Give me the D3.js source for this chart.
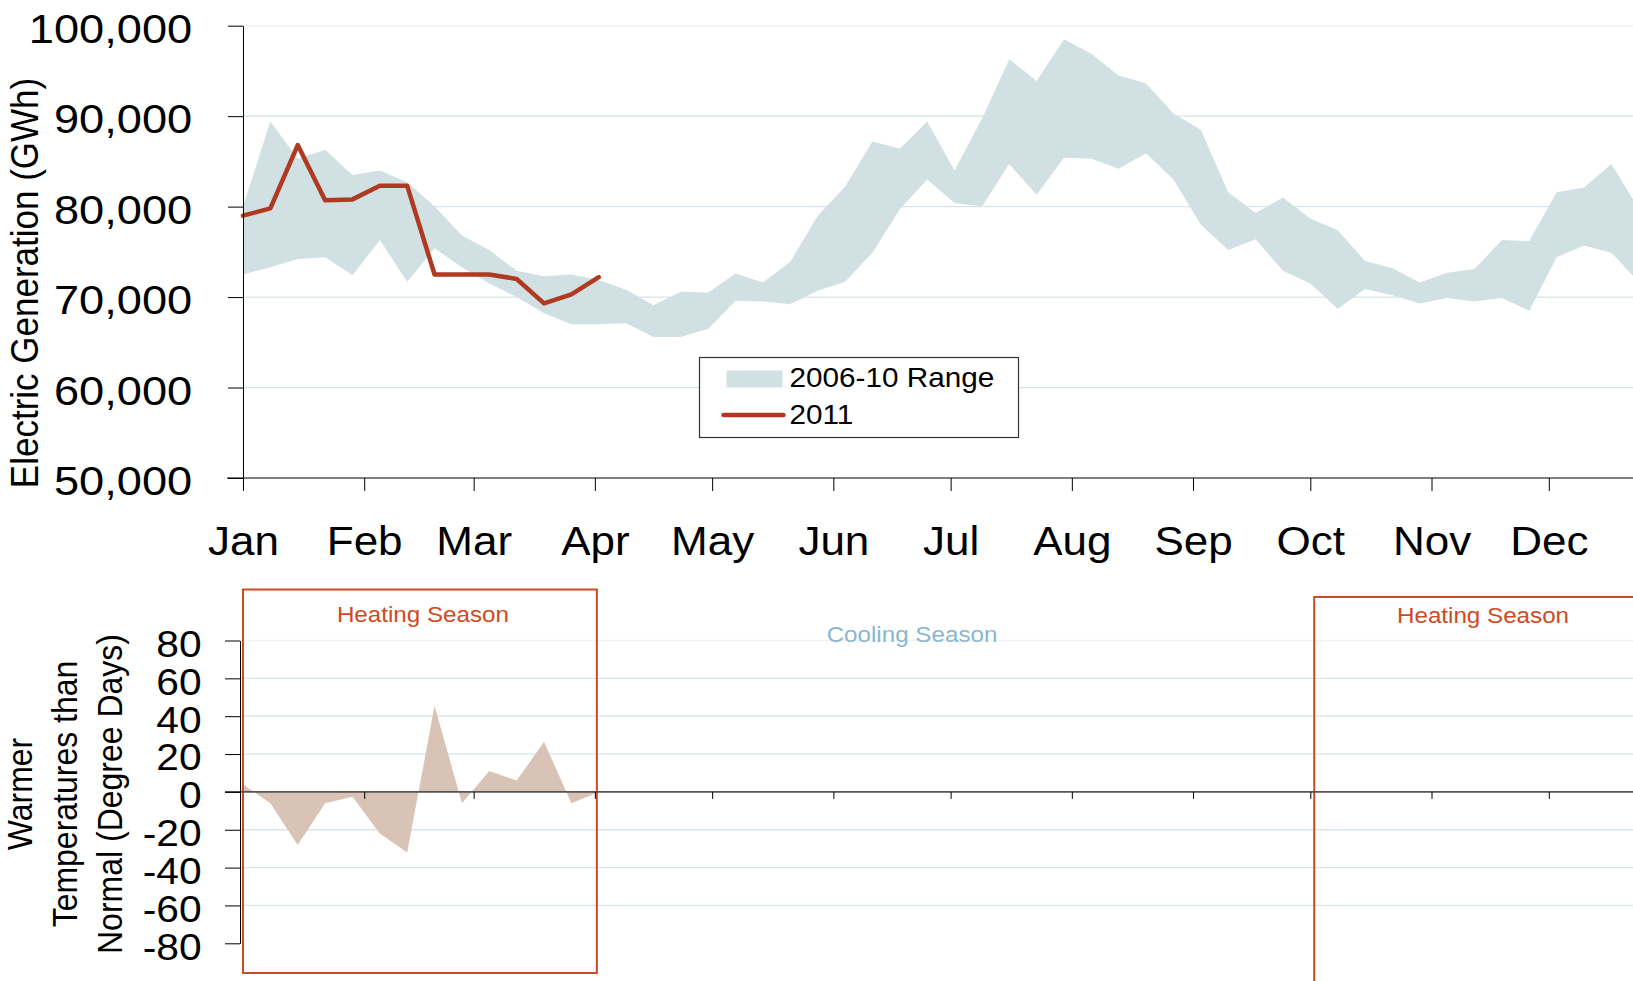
<!DOCTYPE html>
<html>
<head>
<meta charset="utf-8">
<script src="https://cdn.jsdelivr.net/npm/d3@7"></script>
<style>
  body { margin: 0; background: #ffffff; }
  svg text { font-family: Arial, "Liberation Sans", Helvetica, sans-serif; fill: #000; }
  .grid line { stroke: #d6e5e9; stroke-width: 1.3; }
  .grid line.faint { stroke: #eef4f5; }
  .y_axis path, .y_axis line { stroke: #000; stroke-width: 1; }
  .x_axis line { stroke: #000; stroke-width: 1; }
  .x_axis path { display: none; }
</style>
</head>
<body>
<svg id="chart" width="1633" height="981"></svg>
<script>
// month labels and weekly values
var months = ["Jan", "Feb", "Mar", "Apr", "May", "Jun", "Jul", "Aug", "Sep", "Oct", "Nov", "Dec"];

var rangeHigh = [80000, 89400, 85300, 86300, 83500, 84000, 82700, 80000, 76800, 75200,
                 72900, 72300, 72500, 71900, 70800, 69100, 70600, 70500, 72600, 71600,
                 73900, 79000, 82200, 87200, 86400, 89400, 84000, 89700, 96300, 93900,
                 98500, 96900, 94500, 93600, 90300, 88500, 81600, 79300, 81000, 78700,
                 77400, 74000, 73200, 71600, 72700, 73100, 76300, 76200, 81600, 82100,
                 84700, 79800];

var rangeLow = [72500, 73300, 74200, 74400, 72400, 76300, 71700, 75400, 73300, 71500,
                70000, 68200, 67000, 67000, 67100, 65600, 65600, 66500, 69600, 69500,
                69200, 70700, 71700, 74900, 79700, 83000, 80400, 80000, 84700, 81300,
                85400, 85300, 84200, 85900, 83000, 78000, 75200, 76400, 72900, 71500,
                68700, 70900, 70200, 69300, 69900, 69500, 69900, 68500, 74400, 75700,
                74900, 71700];

var gen2011 = [79000, 79800, 86800, 80700, 80800, 82300, 82300, 72500, 72500, 72500,
               72000, 69300, 70300, 72200];

var degreeDays = [4, -6, -28, -6, -2.5, -22, -32, 45.5, -6, 11, 6, 26.5, -6, 0];

var genTicks = [50000, 60000, 70000, 80000, 90000, 100000];
var ddTicks = [-80, -60, -40, -20, 0, 20, 40, 60, 80];

var legendLabels = ["2006-10 Range", "2011"];
var seasonLabels = ["Heating Season", "Cooling Season", "Heating Season"];

var WIDTH = 1633, HEIGHT = 981;
var STRETCH = "scale(1.1,1)";

function weekDate(i) {
    return new Date(Date.UTC(2011, 0, 1 + 7 * i));
}

var vis = d3.select("#chart");

var yearStart = new Date(Date.UTC(2011, 0, 1)),
    yearEnd = new Date(Date.UTC(2012, 0, 1));

var xScale = d3.scaleUtc().domain([yearStart, yearEnd]).range([243, 1670]);
var monthDates = d3.utcMonths(yearStart, yearEnd);

var yScale = d3.scaleLinear().domain([50000, 100000]).range([478, 25.7]);
var yDD = d3.scaleLinear().domain([-80, 80]).range([943.3, 640.5]);

// ---------- top panel ----------
vis.append("g")
    .attr("class", "grid")
    .selectAll("line")
    .data(genTicks.filter(function(d) { return d != 50000; }))
    .enter().append("line")
    .attr("class", function(d) { return d == 100000 ? "faint" : null; })
    .attr("x1", xScale.range()[0])
    .attr("x2", WIDTH)
    .attr("y1", function(d) { return yScale(d); })
    .attr("y2", function(d) { return yScale(d); });

var rangeArea = d3.area()
    .x(function(d) { return xScale(weekDate(d)); })
    .y0(function(d) { return yScale(rangeLow[d]); })
    .y1(function(d) { return yScale(rangeHigh[d]); });

vis.append("path")
    .attr("d", rangeArea(d3.range(rangeHigh.length)))
    .attr("fill", "#d1e1e3");

var lineGen = d3.line()
    .x(function(d, i) { return xScale(weekDate(i)); })
    .y(function(d) { return yScale(d); });

vis.append("path")
    .attr("d", lineGen(gen2011))
    .attr("fill", "none")
    .attr("stroke", "#b03a21")
    .attr("stroke-width", 4.5)
    .attr("stroke-linejoin", "round")
    .attr("stroke-linecap", "round");

// x axis (months)
vis.append("line")
    .attr("x1", xScale.range()[0] - 16)
    .attr("x2", WIDTH)
    .attr("y1", yScale(50000))
    .attr("y2", yScale(50000))
    .attr("stroke", "#7f7f7f")
    .attr("stroke-width", 2);

var xAxis = vis.append("g")
    .attr("class", "x_axis")
    .attr("transform", "translate(0," + yScale(50000) + ")")
    .call(d3.axisBottom(xScale)
        .tickValues(monthDates)
        .tickFormat(function(d, i) { return months[i]; })
        .tickSize(13)
        .tickSizeOuter(0));

xAxis.selectAll("text")
    .attr("y", 77)
    .attr("dy", 0)
    .attr("transform", STRETCH)
    .style("font-size", "40px")
    .attr("fill", "#000");

var yAxis = vis.append("g")
    .attr("class", "y_axis")
    .attr("transform", "translate(" + xScale.range()[0] + ",0)")
    .call(d3.axisLeft(yScale)
        .tickValues(genTicks)
        .tickFormat(d3.format(","))
        .tickSize(15)
        .tickSizeOuter(0));

yAxis.selectAll("text")
    .attr("x", -45)
    .attr("dy", "0.42em")
    .attr("transform", "scale(1.13,1)")
    .style("font-size", "40px")
    .attr("fill", "#000");

vis.append("text")
    .attr("transform", "translate(38,283) " + STRETCH + " rotate(-90)")
    .attr("text-anchor", "middle")
    .style("font-size", "35px")
    .text("Electric Generation (GWh)");

// legend
var legend = vis.append("g").attr("transform", "translate(699.5,357.5)");

legend.append("rect")
    .attr("width", 319)
    .attr("height", 80)
    .attr("fill", "#fff")
    .attr("stroke", "#333")
    .attr("stroke-width", 1.2);

legend.append("rect")
    .attr("x", 27).attr("y", 13)
    .attr("width", 56).attr("height", 17)
    .attr("fill", "#d1e1e3");

legend.append("line")
    .attr("x1", 24).attr("x2", 84)
    .attr("y1", 57.5).attr("y2", 57.5)
    .attr("stroke", "#b03a21")
    .attr("stroke-width", 4.5)
    .attr("stroke-linecap", "round");

legend.selectAll("text.lbl")
    .data(legendLabels)
    .enter().append("text")
    .attr("class", "lbl")
    .attr("transform", function(d, i) { return "translate(90," + (29 + i * 37.5) + ") " + STRETCH; })
    .style("font-size", "27px")
    .text(function(d) { return d; });

// ---------- bottom panel ----------
vis.append("g")
    .attr("class", "grid")
    .selectAll("line")
    .data(ddTicks.filter(function(d) { return d != 0 && d != -80; }))
    .enter().append("line")
    .attr("class", function(d) { return d == 80 ? "faint" : null; })
    .attr("x1", 240)
    .attr("x2", WIDTH)
    .attr("y1", function(d) { return yDD(d); })
    .attr("y2", function(d) { return yDD(d); });

var ddArea = d3.area()
    .x(function(d, i) { return xScale(weekDate(i)); })
    .y0(yDD(0))
    .y1(function(d) { return yDD(d); });

vis.append("path")
    .attr("d", ddArea(degreeDays))
    .attr("fill", "#d9c3b7");

// season boxes
var seasonColor = "#cf4a23";
var heat1 = [yearStart, new Date(Date.UTC(2011, 3, 1))];
var heat2Start = new Date(Date.UTC(2011, 9, 2));

vis.append("rect")
    .attr("x", xScale(heat1[0]))
    .attr("y", 589.5)
    .attr("width", xScale(heat1[1]) - xScale(heat1[0]) + 2)
    .attr("height", 383.5)
    .attr("fill", "none")
    .attr("stroke", seasonColor)
    .attr("stroke-width", 2);

vis.append("rect")
    .attr("x", xScale(heat2Start))
    .attr("y", 597)
    .attr("width", 500)
    .attr("height", 500)
    .attr("fill", "none")
    .attr("stroke", seasonColor)
    .attr("stroke-width", 2);

var seasonText = [
    { x: (xScale(heat1[0]) + xScale(heat1[1])) / 2 + 4, y: 621.5, c: seasonColor },
    { x: 912, y: 641.5, c: "#89b7cd" },
    { x: 1483, y: 622.5, c: seasonColor }
];

vis.selectAll("text.season")
    .data(seasonText)
    .enter().append("text")
    .attr("class", "season")
    .attr("transform", function(d) { return "translate(" + d.x + "," + d.y + ") " + STRETCH; })
    .attr("text-anchor", "middle")
    .style("font-size", "22px")
    .style("fill", function(d) { return d.c; })
    .text(function(d, i) { return seasonLabels[i]; });

// zero line with month ticks
vis.append("line")
    .attr("x1", 225)
    .attr("x2", WIDTH)
    .attr("y1", yDD(0))
    .attr("y2", yDD(0))
    .attr("stroke", "#555")
    .attr("stroke-width", 1.6);

vis.append("g")
    .attr("class", "x_axis")
    .attr("transform", "translate(0," + yDD(0) + ")")
    .call(d3.axisBottom(xScale)
        .tickValues(monthDates.slice(1))
        .tickFormat("")
        .tickSize(7)
        .tickSizeOuter(0));

var yAxis2 = vis.append("g")
    .attr("class", "y_axis")
    .attr("transform", "translate(240,0)")
    .call(d3.axisLeft(yDD)
        .tickValues(ddTicks)
        .tickFormat(function(d) { return String(d); })
        .tickSize(15)
        .tickSizeOuter(0));

yAxis2.selectAll("text")
    .attr("x", -35)
    .attr("dy", "0.43em")
    .attr("transform", STRETCH)
    .style("font-size", "37px")
    .attr("fill", "#000");

var ddTitle = ["Warmer", "Temperatures than", "Normal (Degree Days)"];
vis.selectAll("text.ddtitle")
    .data(ddTitle)
    .enter().append("text")
    .attr("class", "ddtitle")
    .attr("transform", function(d, i) { return "translate(" + (32 + i * 45) + ",794) " + STRETCH + " rotate(-90)"; })
    .attr("text-anchor", "middle")
    .style("font-size", "32px")
    .text(function(d) { return d; });
</script>
</body>
</html>
